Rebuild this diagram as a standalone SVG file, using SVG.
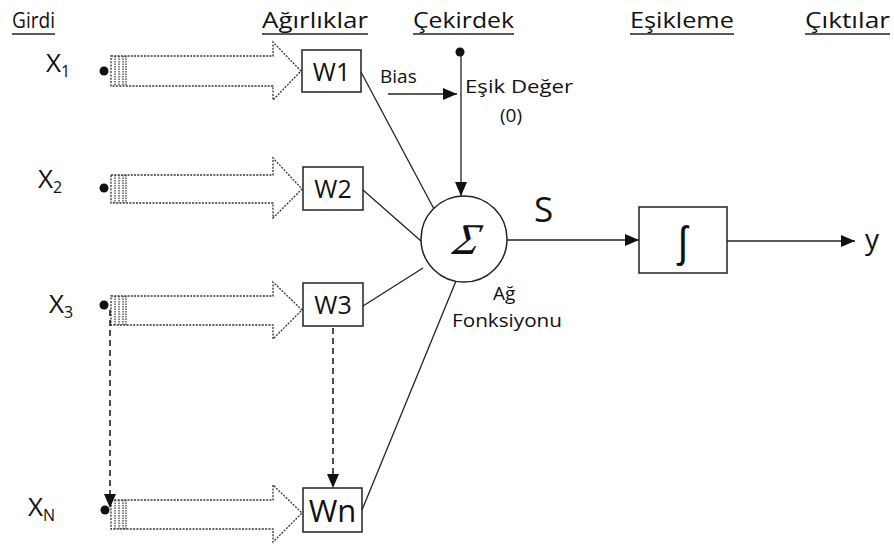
<svg xmlns="http://www.w3.org/2000/svg" width="894" height="545" viewBox="0 0 894 545">
<style>
text{font-family:"Open Sans","Noto Sans",sans-serif;fill:#111}
.hd{font-size:22px}
.ul{stroke:#222;stroke-width:1.6}
.hollow{fill:#fff;stroke:#333;stroke-width:1.3;stroke-dasharray:2 1.3}
.stripe{stroke:#333;stroke-width:1.2;stroke-dasharray:1.5 1}
.box{fill:#fff;stroke:#222;stroke-width:1.5}
.ln{stroke:#222;stroke-width:1.3;fill:none}
.dash{stroke:#222;stroke-width:1.6;stroke-dasharray:6 4;fill:none}
.dot{fill:#111}
.w{text-anchor:middle}
.xl{font-size:26px}
.sub{font-size:16px}
.lb{font-size:19px}
</style>
<defs>
<marker id="ahb" viewBox="0 0 14 12" refX="14" refY="6" markerWidth="14" markerHeight="12" markerUnits="userSpaceOnUse" orient="auto">
<path d="M0,0 L14,6 L0,12 z" fill="#111"/>
</marker>
</defs>

<g id="headers">
<text class="hd" x="12" y="28" textLength="43" lengthAdjust="spacingAndGlyphs">Girdi</text>
<line class="ul" x1="12" y1="34" x2="55" y2="34"/>
<text class="hd" x="262" y="28" textLength="106" lengthAdjust="spacingAndGlyphs">Ağırlıklar</text>
<line class="ul" x1="262" y1="34" x2="368" y2="34"/>
<text class="hd" x="413" y="28" textLength="101" lengthAdjust="spacingAndGlyphs">Çekirdek</text>
<line class="ul" x1="413" y1="34" x2="514" y2="34"/>
<text class="hd" x="630" y="28" textLength="104" lengthAdjust="spacingAndGlyphs">Eşikleme</text>
<line class="ul" x1="630" y1="34" x2="734" y2="34"/>
<text class="hd" x="805" y="28" textLength="85" lengthAdjust="spacingAndGlyphs">Çıktılar</text>
<line class="ul" x1="805" y1="34" x2="890" y2="34"/>
</g>

<g id="input-x1">
<text class="xl" x="46" y="72">X<tspan class="sub" dy="5">1</tspan></text>
<path class="hollow" d="M111,56 H273 V42 L301,71 L273,100 V86 H111 Z"/>
<line class="stripe" x1="115" y1="56" x2="115" y2="86"/><line class="stripe" x1="119" y1="56" x2="119" y2="86"/><line class="stripe" x1="123" y1="56" x2="123" y2="86"/><line class="stripe" x1="126" y1="56" x2="126" y2="86"/>
<circle class="dot" cx="104" cy="71" r="4.5"/>
</g>
<g id="input-x2">
<text class="xl" x="38" y="188">X<tspan class="sub" dy="5">2</tspan></text>
<path class="hollow" d="M111,175 H273 V158 L302,189 L273,218 V203 H111 Z"/>
<line class="stripe" x1="115" y1="175" x2="115" y2="203"/><line class="stripe" x1="119" y1="175" x2="119" y2="203"/><line class="stripe" x1="123" y1="175" x2="123" y2="203"/><line class="stripe" x1="126" y1="175" x2="126" y2="203"/>
<circle class="dot" cx="104" cy="188" r="4.5"/>
</g>
<g id="input-x3">
<text class="xl" x="49" y="313">X<tspan class="sub" dy="5">3</tspan></text>
<path class="hollow" d="M111,296 H273 V282 L302,310 L273,339 V325 H111 Z"/>
<line class="stripe" x1="115" y1="296" x2="115" y2="325"/><line class="stripe" x1="119" y1="296" x2="119" y2="325"/><line class="stripe" x1="123" y1="296" x2="123" y2="325"/><line class="stripe" x1="126" y1="296" x2="126" y2="325"/>
<circle class="dot" cx="104" cy="305" r="4.5"/>
</g>
<g id="input-xn">
<text class="xl" x="28" y="516">X<tspan class="sub" dy="5">N</tspan></text>
<path class="hollow" d="M111,500 H273 V485 L302,513 L273,542 V529 H111 Z"/>
<line class="stripe" x1="115" y1="500" x2="115" y2="529"/><line class="stripe" x1="119" y1="500" x2="119" y2="529"/><line class="stripe" x1="123" y1="500" x2="123" y2="529"/><line class="stripe" x1="126" y1="500" x2="126" y2="529"/>
<circle class="dot" cx="105" cy="510" r="4.5"/>
</g>

<g id="w1"><rect class="box" x="302" y="50" width="59" height="42"/><text class="w" x="331.5" y="81" style="font-size:25px">W1</text></g>
<g id="w2"><rect class="box" x="303" y="167" width="60" height="43"/><text class="w" x="333" y="198" style="font-size:25px">W2</text></g>
<g id="w3"><rect class="box" x="303" y="283" width="60" height="43"/><text class="w" x="333" y="314" style="font-size:25px">W3</text></g>
<g id="wn"><rect class="box" x="303" y="488" width="59" height="44"/><text class="w" x="332.5" y="522" style="font-size:31px">Wn</text></g>

<g id="sum">
<circle cx="464" cy="239" r="43" fill="#fff" stroke="#222" stroke-width="1.5"/>
<text x="0" y="0" transform="translate(464,254) skewX(-14)" text-anchor="middle" style="font-family:'Liberation Serif',serif;font-size:44px;font-style:italic">Σ</text>
</g>
<g id="sum-label">
<text class="lb" x="493" y="300">Ağ</text>
<text class="lb" x="452" y="327" textLength="110" lengthAdjust="spacingAndGlyphs">Fonksiyonu</text>
</g>

<g id="bias">
<circle class="dot" cx="460" cy="52" r="4.5"/>
<text class="lb" x="380" y="83">Bias</text>
<text class="lb" x="465" y="93" textLength="108" lengthAdjust="spacingAndGlyphs">Eşik Değer</text>
<text class="lb" x="500" y="122">(0)</text>
</g>

<g id="activation"><rect class="box" x="639" y="207" width="88" height="66"/><text x="683" y="256" text-anchor="middle" style="font-size:40px">ʃ</text></g>
<g id="output-y"><text x="865" y="249" style="font-size:28px">y</text></g>
<g id="s-label"><text x="534" y="222" style="font-size:35px">S</text></g>

<g id="connectors">
<line class="ln" x1="361" y1="72" x2="434" y2="209"/>
<line class="ln" x1="363" y1="190" x2="421" y2="241"/>
<line class="ln" x1="363" y1="306" x2="423" y2="268"/>
<line class="ln" x1="362" y1="510" x2="456" y2="281"/>
<line class="ln" x1="461" y1="52" x2="461" y2="196" marker-end="url(#ahb)"/>
<line class="ln" x1="388" y1="94" x2="457" y2="94" marker-end="url(#ahb)"/>
<line class="ln" x1="507" y1="240" x2="639" y2="240" marker-end="url(#ahb)"/>
<line class="ln" x1="727" y1="241" x2="855" y2="241" marker-end="url(#ahb)"/>
<line class="dash" x1="110" y1="310" x2="110" y2="508" marker-end="url(#ahb)"/>
<line class="dash" x1="333" y1="328" x2="333" y2="488" marker-end="url(#ahb)"/>
</g>
</svg>
